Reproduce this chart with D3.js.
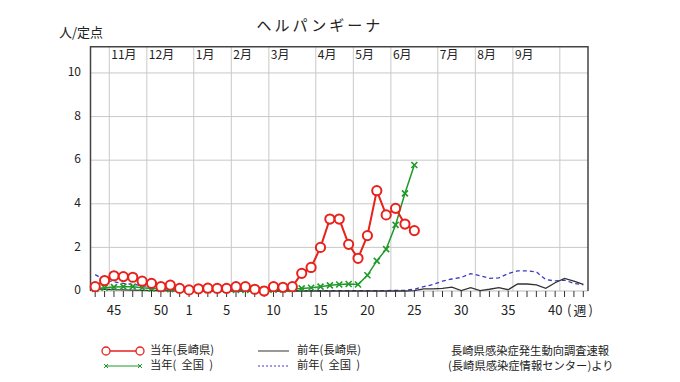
<!DOCTYPE html>
<html><head><meta charset="utf-8">
<script src="https://cdn.jsdelivr.net/npm/d3@7"></script>
<style>
html,body{margin:0;padding:0;background:#fff;}
text{font-family:"Noto Sans CJK JP","Noto Sans",sans-serif;fill:#222;}
</style></head>
<body>
<svg id="c" width="680" height="382"></svg>
<script>
// ---- data ----
const weeks = [43,44,45,46,47,48,49,50,51,52,1,2,3,4,5,6,7,8,9,10,11,12,13,14,15,16,17,18,19,20,21,22,23,24,25,26,27,28,29,30,31,32,33,34,35,36,37,38,39,40,41,42,43];
const weekTicks = [45,50,1,5,10,15,20,25,30,35,40];
const monthLabels = ["11月","12月","1月","2月","3月","4月","5月","6月","7月","8月","9月",""];
const monthLineAfterIdx = [1,5,10,14,18,23,27,31,36,40,44,49];
const yTicks = [0,2,4,6,8,10];
// 当年(長崎県)
const curPref = [0.2,0.48,0.7,0.66,0.63,0.45,0.35,0.2,0.27,0.12,0.05,0.1,0.13,0.12,0.12,0.2,0.2,0.08,0.0,0.2,0.17,0.2,0.81,1.08,2.0,3.3,3.3,2.14,1.5,2.54,4.6,3.49,3.79,3.07,2.77];
// 当年(全国)
const curNat = [0.1,0.15,0.18,0.2,0.2,0.15,0.12,0.1,0.08,0.06,0.05,0.05,0.05,0.05,0.05,0.05,0.05,0.05,0.05,0.06,0.07,0.09,0.12,0.15,0.2,0.26,0.3,0.32,0.3,0.72,1.38,1.92,3.03,4.48,5.78];
// 前年(長崎県)
const prevPref = [0.1,0.08,0.06,0.05,0.04,0.03,0.02,0.02,0.01,0.01,0,0,0,0,0,0,0,0,0,0,0,0,0,0,0,0,0,0,0,0,0,0,0,0,0.02,0.1,0.1,0.12,0.18,0.02,0.15,0.02,0.08,0.15,0.06,0.32,0.32,0.28,0.12,0.38,0.58,0.45,0.3];
// 前年(全国)
const prevNat = [0.75,0.5,0.42,0.35,0.3,0.25,0.2,0.16,0.12,0.1,0.08,0.06,0.05,0.04,0.04,0.03,0.03,0.03,0.02,0.02,0.02,0.02,0.02,0.02,0.02,0.02,0.02,0.02,0.02,0.02,0.02,0.02,0.03,0.03,0.08,0.2,0.3,0.45,0.55,0.62,0.8,0.7,0.58,0.6,0.8,0.92,0.92,0.88,0.52,0.46,0.5,0.35,0.28];

// ---- drawing ----
const svg = d3.select("#c");
const x = d3.scaleLinear().domain([-0.5, weeks.length - 0.5]).range([90.5, 588]);
const y = d3.scaleLinear().domain([0, 11.2]).range([291, 46.8]);
const x0 = x.range()[0], x1 = x.range()[1], yTop = y(11.2), yBot = y(0);

const RED = "#e8211b", GREEN = "#1f9a2a", BLUE = "#3a3ac0", BLACK = "#333";

// horizontal gridlines
svg.append("g").selectAll("line").data(yTicks.filter(d => d > 0)).join("line")
  .attr("x1", x0).attr("x2", x1).attr("y1", d => y(d)).attr("y2", d => y(d))
  .attr("stroke", "#c9c9c9").attr("stroke-width", 1);
// month gridlines
svg.append("g").selectAll("line").data(monthLineAfterIdx).join("line")
  .attr("x1", d => x(d + 0.5)).attr("x2", d => x(d + 0.5))
  .attr("y1", yTop).attr("y2", yBot)
  .attr("stroke", "#c9c9c9").attr("stroke-width", 1);
// month labels
svg.append("g").selectAll("text").data(monthLabels).join("text")
  .attr("x", (d, i) => x(monthLineAfterIdx[i] + 0.5) + 2)
  .attr("y", 56).attr("dominant-baseline", "middle")
  .attr("font-size", 12).text(d => d);

// baseline
svg.append("line").attr("x1", x0).attr("x2", x1).attr("y1", yBot).attr("y2", yBot)
  .attr("stroke", "#bbb").attr("stroke-width", 1);
// frame
svg.append("path")
  .attr("d", `M${x0},${yBot}V${yTop}H${x1}V${yBot}`)
  .attr("fill", "none").attr("stroke", "#444").attr("stroke-width", 1.5);

// x ticks (every week)
svg.append("g").selectAll("line").data(weeks.map((w, i) => i)).join("line")
  .attr("x1", d => x(d)).attr("x2", d => x(d)).attr("y1", yBot).attr("y2", yBot + 6)
  .attr("stroke", "#333").attr("stroke-width", 1);
// x tick labels
const tickIdx = weekTicks.map(w => weeks.indexOf(w, w >= 43 ? 0 : 10));
svg.append("g").selectAll("text").data(weekTicks).join("text")
  .attr("x", (d, i) => x(tickIdx[i])).attr("y", 311)
  .attr("text-anchor", "middle").attr("dominant-baseline", "middle")
  .attr("font-size", 13).text(d => d);
svg.append("text").attr("x", 567).attr("y", 311).attr("dominant-baseline", "middle")
  .attr("font-size", 13).attr("letter-spacing", 2).text("(週)");

// y tick labels
svg.append("g").selectAll("text").data(yTicks).join("text")
  .attr("x", 81).attr("y", d => y(d)).attr("text-anchor", "end")
  .attr("dominant-baseline", "middle").attr("font-size", 12).text(d => d);

// titles
svg.append("text").attr("x", 59).attr("y", 33).attr("dominant-baseline", "middle")
  .attr("font-size", 13).text("人/定点");
svg.append("text").attr("x", 320).attr("y", 27).attr("text-anchor", "middle")
  .attr("dominant-baseline", "middle").attr("font-size", 15)
  .attr("letter-spacing", 3).text("ヘルパンギーナ");

// lines
const line = d3.line().x((d, i) => x(i)).y(d => y(d));
svg.append("path").datum(prevNat).attr("d", line).attr("fill", "none")
  .attr("stroke", BLUE).attr("stroke-width", 1.3).attr("stroke-dasharray", "4,3");
svg.append("path").datum(prevPref).attr("d", line).attr("fill", "none")
  .attr("stroke", BLACK).attr("stroke-width", 1.3);
svg.append("path").datum(curNat).attr("d", line).attr("fill", "none")
  .attr("stroke", GREEN).attr("stroke-width", 1.5);
const xMark = (s) => `M${-s},${-s}L${s},${s}M${-s},${s}L${s},${-s}`;
svg.append("g").selectAll("path").data(curNat).join("path")
  .attr("transform", (d, i) => `translate(${x(i)},${y(d)})`)
  .attr("d", xMark(3)).attr("stroke", GREEN).attr("stroke-width", 1.6).attr("fill", "none");
svg.append("path").datum(curPref).attr("d", line).attr("fill", "none")
  .attr("stroke", RED).attr("stroke-width", 2);
svg.append("g").selectAll("circle").data(curPref).join("circle")
  .attr("cx", (d, i) => x(i)).attr("cy", d => y(d)).attr("r", 4.6)
  .attr("fill", "#fff").attr("stroke", RED).attr("stroke-width", 2);

// legend
const lg = svg.append("g");
const r1 = 351, r2 = 366;
lg.append("line").attr("x1", 106).attr("x2", 140).attr("y1", r1).attr("y2", r1).attr("stroke", RED).attr("stroke-width", 1.5);
[106, 140].forEach(cx => lg.append("circle").attr("cx", cx).attr("cy", r1).attr("r", 4)
  .attr("fill", "#fff").attr("stroke", RED).attr("stroke-width", 1.3));
lg.append("line").attr("x1", 106).attr("x2", 140).attr("y1", r2).attr("y2", r2).attr("stroke", GREEN).attr("stroke-width", 1);
[106, 140].forEach(cx => lg.append("path").attr("transform", `translate(${cx},${r2})`)
  .attr("d", xMark(2)).attr("stroke", GREEN).attr("stroke-width", 1).attr("fill", "none"));
lg.append("line").attr("x1", 258).attr("x2", 289).attr("y1", r1).attr("y2", r1).attr("stroke", BLACK).attr("stroke-width", 1);
lg.append("line").attr("x1", 258).attr("x2", 289).attr("y1", r2).attr("y2", r2).attr("stroke", BLUE).attr("stroke-width", 1).attr("stroke-dasharray", "2,2");
const legTexts = [
  {t: "当年(長崎県)", x: 150, y: r1}, {t: "当年(  全国  )", x: 150, y: r2},
  {t: "前年(長崎県)", x: 297, y: r1}, {t: "前年(  全国  )", x: 297, y: r2},
  {t: "長崎県感染症発生動向調査速報", x: 451, y: r1 + 1}, {t: "(長崎県感染症情報センター)より", x: 448, y: r2 + 1}
];
lg.selectAll("text").data(legTexts).join("text")
  .attr("x", d => d.x).attr("y", d => d.y).attr("dominant-baseline", "middle")
  .attr("font-size", 11.3).style("white-space", "pre").text(d => d.t);
</script>
</body></html>
